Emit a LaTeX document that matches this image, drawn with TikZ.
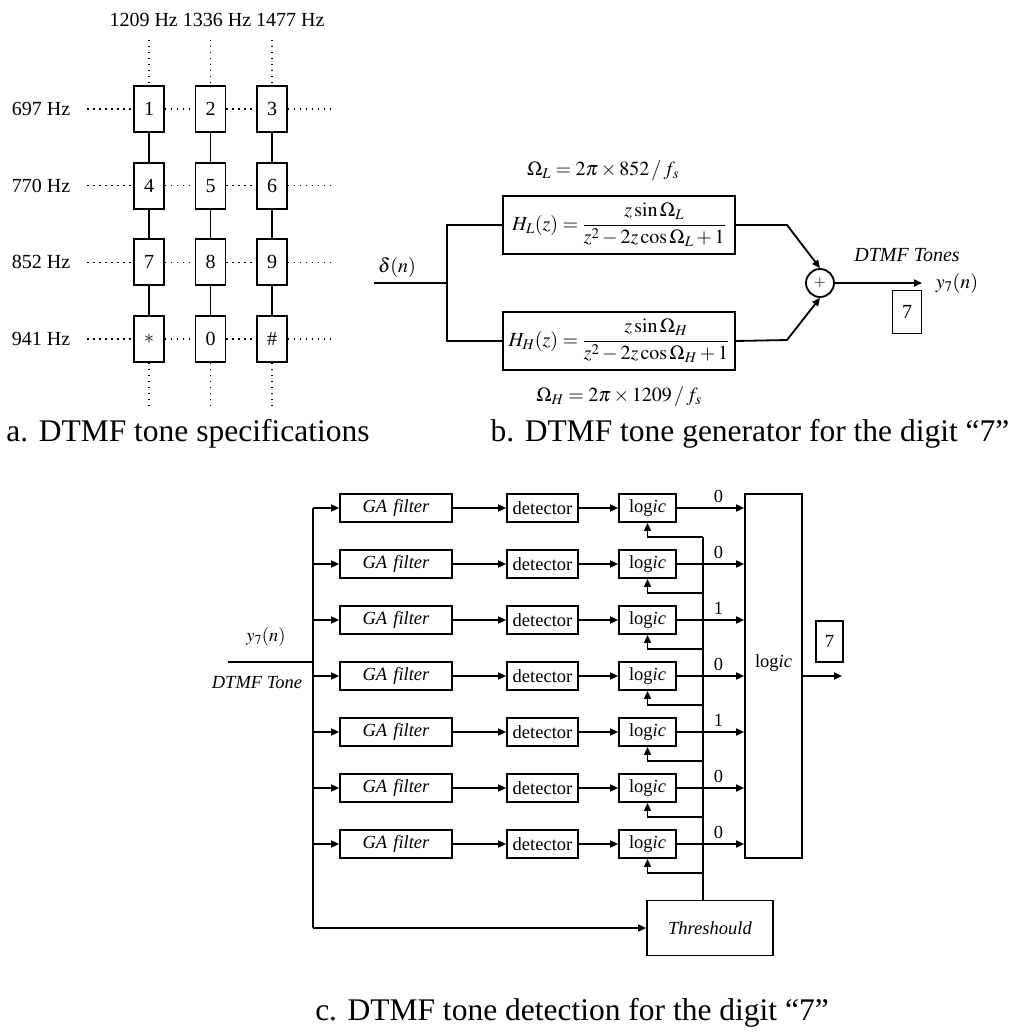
\documentclass[tikz,border=0pt]{standalone}
\usepackage{amsmath}
\usepackage{mathptmx}
\usepackage[no-math]{fontspec}
\setmainfont{Liberation Serif}
\usetikzlibrary{arrows.meta,positioning,calc}

\begin{document}
\begin{tikzpicture}[x=1pt, y=-1pt, line width=1.8pt, font=\fontsize{20}{24}\selectfont,
  key/.style={draw, minimum width=30pt, minimum height=46pt, inner sep=0pt},
  dot/.style={line width=1.5pt, dash pattern=on 1.5pt off 4.5pt},
  fbox/.style={draw, minimum width=232pt, minimum height=58pt, inner sep=2pt},
  blk/.style={draw, minimum height=28pt, inner sep=0pt},
  arr/.style={-{Triangle[length=8pt, width=7pt]}},
  captxt/.style={font=\fontsize{31.5}{36}\selectfont}]
\useasboundingbox (0,0) rectangle (1011,1032);

% a. keypad
\node (hz) at (217,20) {1209 Hz 1336 Hz 1477 Hz};
\foreach \f/\ka/\kb/\kc [count=\r] in {697/1/2/3, 770/4/5/6, 852/7/8/9, 941/{$*$}/0/{\#}} {
  \pgfmathsetmacro{\yy}{109+76.67*(\r-1)}
  \node (f\r) at (41,\yy) {\f{} Hz};
  \node[key] (kA\r) at (149,\yy) {\ka};
  \node[key] (kB\r) at (210.5,\yy) {\kb};
  \node[key] (kC\r) at (272,\yy) {\kc};
  \coordinate (hl\r) at (87,\yy);
  \coordinate (hr\r) at (333,\yy);
  \draw[dot] (hl\r) -- (kA\r.west) (kA\r.east) -- (kB\r.west)
             (kB\r.east) -- (kC\r.west) (kC\r.east) -- (hr\r);
}
\foreach \c/\xx in {A/149, B/210.5, C/272} {
  \coordinate (top\c) at (\xx,40);
  \coordinate (bot\c) at (\xx,408);
  \draw[dot] (top\c) -- (k\c1.north);
  \draw[dot] (k\c4.south) -- (bot\c);
  \draw (k\c1) -- (k\c2) -- (k\c3) -- (k\c4);
}
\node[captxt] (capa) at (188,434) {a. DTMF tone specifications};

% b. generator
\node[fbox] (hl) at (619,225) {$H_L(z)=\dfrac{z\sin\Omega_L}{z^2-2z\cos\Omega_L+1}$};
\node[fbox] (hh) at (619,341) {$H_H(z)=\dfrac{z\sin\Omega_H}{z^2-2z\cos\Omega_H+1}$};
\node (oml) at (603,171) {$\Omega_L=2\pi\times852\,/\,f_s$};
\node (omh) at (619,397) {$\Omega_H=2\pi\times1209\,/\,f_s$};
\node (delta) at (397,267) {$\delta(n)$};
\coordinate (din) at (374,283);
\coordinate (split) at (447,283);
\draw (din) -- (split);
\draw (hl.west) -| (split) |- (hh.west);
\node[draw, circle, minimum size=28pt, inner sep=0pt, font=\fontsize{15}{18}\selectfont] (sum) at (820,283) {$+$};
\coordinate (kl) at (787,225);
\coordinate (kh) at (787,340);
\draw[arr] (hl.east) -- (kl) -- (sum.north);
\draw[arr] (hh.east) -- (kh) -- (sum.south);
\coordinate (yout) at (922,283);
\draw[arr] (sum) -- (yout);
\node (y7) at (957,283) {$y_7(n)$};
\node (tones) at (907,255) {\textit{DTMF Tones}};
\node[key, minimum width=29pt, minimum height=43pt] (seven) at (907,312) {7};
\node[captxt] (capb) at (750,434) {b. DTMF tone generator for the digit “7”};

% c. detector
\begin{scope}[font=\fontsize{18.5}{22}\selectfont]
\node[draw, minimum width=57pt, minimum height=364pt, inner sep=0pt] (big) at (773.5,676) {};
\node (biglab) at (773.5,663) {log\textit{ic}};
\coordinate (bustop) at (313,508);
\coordinate (busbot) at (313,928);
\coordinate (cin) at (228,662);
\coordinate (tap) at (313,662);
\draw (cin) -- (tap);
\draw (bustop) -- (busbot);
\node (yin) at (266,637) {$y_7(n)$};
\node (tone) at (257,683) {\textit{DTMF Tone}};
\node[blk, minimum width=126pt, minimum height=55pt] (thr) at (710,928) {\textit{Threshould}};
\draw[arr] (busbot) -- (thr.west);
\coordinate (tbtop) at (703,537);
\draw (tbtop |- thr.north) -- (tbtop);
\foreach \b [count=\i] in {0,0,1,0,1,0,0} {
  \pgfmathsetmacro{\yy}{508+56*(\i-1)}
  \node[blk, minimum width=112pt] (ga\i) at (396,\yy) {\textit{GA\,\,filter}};
  \node[blk, minimum width=71pt] (det\i) at (542.5,\yy) {detector};
  \node[blk, minimum width=57pt] (lg\i) at (647.5,\yy) {log\textit{ic}};
  \coordinate (fb\i) at (703,\yy+29);
  \draw[arr] (ga\i.west -| bustop) -- (ga\i.west);
  \draw[arr] (ga\i) -- (det\i);
  \draw[arr] (det\i) -- (lg\i);
  \draw[arr] (fb\i) -| (lg\i.south);
  \draw[arr] (lg\i.east) -- (lg\i.east -| big.west) node[pos=0.62, above=1pt] {\b};
}
\node[key, minimum width=27pt, minimum height=41pt] (res) at (829.5,641.5) {7};
\coordinate (cout) at (842,676);
\draw[arr] (big.east) -- (cout);
\end{scope}
\node[captxt] (capc) at (572,1013) {c. DTMF tone detection for the digit “7”};
\end{tikzpicture}
\end{document}
